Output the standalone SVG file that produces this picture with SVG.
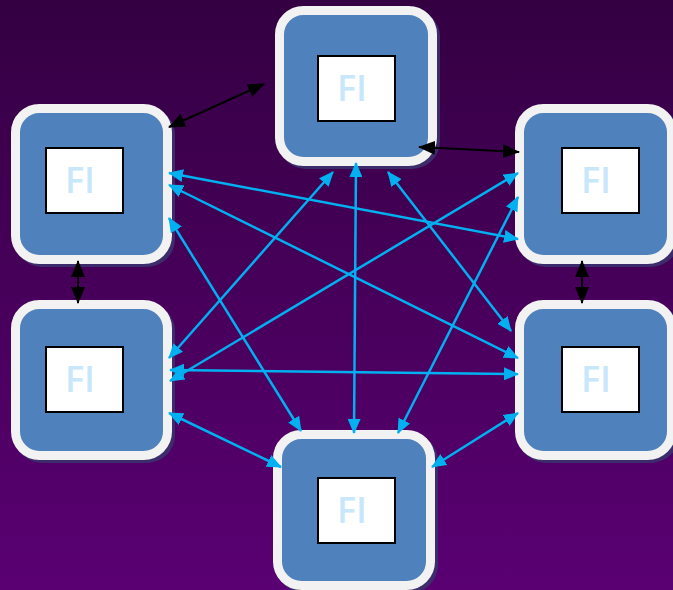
<svg xmlns="http://www.w3.org/2000/svg" width="673" height="590" viewBox="0 0 673 590">
  <defs>
    <linearGradient id="bg" x1="0" y1="0" x2="0" y2="1">
      <stop offset="0" stop-color="#340042"/>
      <stop offset="1" stop-color="#5a0073"/>
    </linearGradient>
    <marker id="cyanHead" markerUnits="userSpaceOnUse" markerWidth="15" markerHeight="13" refX="14" refY="6.5" orient="auto-start-reverse">
      <path d="M0,0 L15,6.5 L0,13 z" fill="#00b0f0"/>
    </marker>
    <marker id="blackHead" markerUnits="userSpaceOnUse" markerWidth="17" markerHeight="14" refX="16" refY="7" orient="auto-start-reverse">
      <path d="M0,0 L17,7 L0,14 z" fill="#000"/>
    </marker>
  </defs>
  <style>
    .shadow { fill: #3d2c6c; }
    .frame { fill: #4f81bd; stroke: #f2f2f2; stroke-width: 9; }
    .label { fill: #fff; stroke: #000; stroke-width: 2; }
    .fi { font-family: "Open Sans", "Liberation Sans", sans-serif; font-size: 36px; font-weight: 600; fill: #c9e7fb; text-anchor: middle; }
    .link { stroke: #00b0f0; stroke-width: 2.5; fill: none; marker-start: url(#cyanHead); marker-end: url(#cyanHead); }
    .peer { stroke: #000; stroke-width: 2; fill: none; marker-start: url(#blackHead); marker-end: url(#blackHead); }
  </style>

  <rect width="673" height="590" fill="url(#bg)"/>

  <!-- nodes -->
  <g id="node-top">
    <rect class="shadow" x="278" y="9" width="162" height="160" rx="28"/>
    <rect class="frame" x="279.5" y="10.5" width="153" height="151" rx="24"/>
    <rect class="label" x="318" y="56" width="77" height="65"/>
    <text class="fi" x="352" y="101">FI</text>
  </g>
  <g id="node-left-top">
    <rect class="shadow" x="14" y="107" width="161" height="160" rx="28"/>
    <rect class="frame" x="15.5" y="108.5" width="152" height="151" rx="24"/>
    <rect class="label" x="46" y="148" width="77" height="65"/>
    <text class="fi" x="80" y="193">FI</text>
  </g>
  <g id="node-right-top">
    <rect class="shadow" x="518" y="107" width="161" height="160" rx="28"/>
    <rect class="frame" x="519.5" y="108.5" width="152" height="151" rx="24"/>
    <rect class="label" x="562" y="148" width="77" height="65"/>
    <text class="fi" x="596" y="193">FI</text>
  </g>
  <g id="node-left-bottom">
    <rect class="shadow" x="14" y="303" width="161" height="160" rx="28"/>
    <rect class="frame" x="15.5" y="304.5" width="152" height="151" rx="24"/>
    <rect class="label" x="46" y="347" width="77" height="65"/>
    <text class="fi" x="80" y="392">FI</text>
  </g>
  <g id="node-right-bottom">
    <rect class="shadow" x="518" y="303" width="161" height="160" rx="28"/>
    <rect class="frame" x="519.5" y="304.5" width="152" height="151" rx="24"/>
    <rect class="label" x="562" y="347" width="77" height="65"/>
    <text class="fi" x="596" y="392">FI</text>
  </g>
  <g id="node-bottom">
    <rect class="shadow" x="276" y="433" width="162" height="160" rx="28"/>
    <rect class="frame" x="277.5" y="434.5" width="153" height="151" rx="24"/>
    <rect class="label" x="318" y="478" width="77" height="65"/>
    <text class="fi" x="352" y="523">FI</text>
  </g>

  <!-- connectors -->
  <g id="connectors">
    <line class="link" x1="169" y1="173" x2="518" y2="239"/>
    <line class="link" x1="169" y1="185" x2="518" y2="358"/>
    <line class="link" x1="169" y1="218" x2="301" y2="431"/>
    <line class="link" x1="169" y1="358" x2="333" y2="172"/>
    <line class="link" x1="170" y1="381" x2="518" y2="173"/>
    <line class="link" x1="170" y1="370" x2="518" y2="374"/>
    <line class="link" x1="169" y1="413" x2="281" y2="467"/>
    <line class="link" x1="356" y1="163" x2="354" y2="433"/>
    <line class="link" x1="388" y1="172" x2="511" y2="331"/>
    <line class="link" x1="518" y1="197" x2="398" y2="433"/>
    <line class="link" x1="518" y1="413" x2="432" y2="467"/>
    <line class="peer" x1="169" y1="127" x2="264" y2="84"/>
    <line class="peer" x1="419" y1="147" x2="519" y2="152"/>
    <line class="peer" x1="78" y1="261" x2="78" y2="303"/>
    <line class="peer" x1="582" y1="261" x2="582" y2="303"/>
  </g>
</svg>
